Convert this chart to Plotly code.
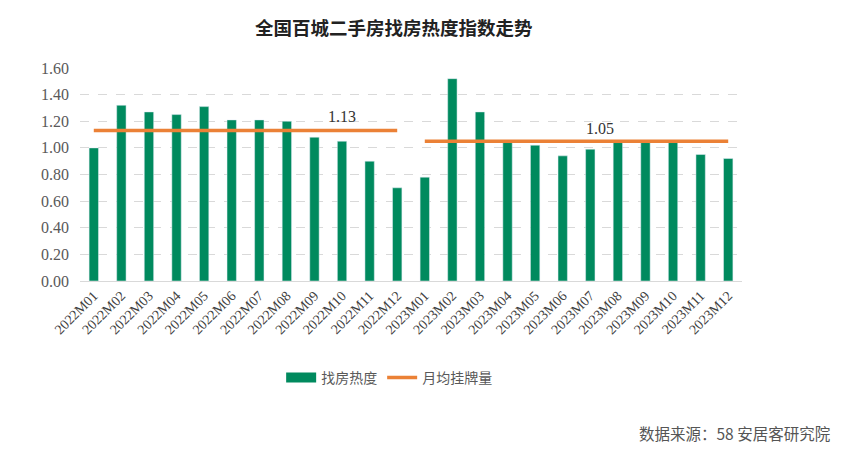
import plotly.graph_objects as go

months = ["2022M01", "2022M02", "2022M03", "2022M04", "2022M05", "2022M06",
          "2022M07", "2022M08", "2022M09", "2022M10", "2022M11", "2022M12",
          "2023M01", "2023M02", "2023M03", "2023M04", "2023M05", "2023M06",
          "2023M07", "2023M08", "2023M09", "2023M10", "2023M11", "2023M12"]
heat = [1.00, 1.32, 1.27, 1.25, 1.31, 1.21, 1.21, 1.20, 1.08, 1.05, 0.90, 0.70,
        0.78, 1.52, 1.27, 1.04, 1.02, 0.94, 0.99, 1.04, 1.04, 1.04, 0.95, 0.92]
avg_2022 = 1.13
avg_2023 = 1.05

green = "#008A5E"
orange = "#EB8136"
serif = "Liberation Serif, Noto Sans CJK SC, serif"
cjk = "Noto Sans CJK SC, sans-serif"

fig = go.Figure()
fig.add_trace(go.Bar(x=months, y=heat, name="找房热度", marker_color=green,
                     showlegend=False))

# yearly average lines, 2022 and 2023
fig.add_trace(go.Scatter(x=months[:12], y=[avg_2022] * 12, mode="lines",
                         showlegend=False, line=dict(color=orange, width=3.5)))
fig.add_trace(go.Scatter(x=months[12:], y=[avg_2023] * 12, mode="lines",
                         showlegend=False, line=dict(color=orange, width=3.5)))

# legend entries (wide green block like the original)
fig.add_trace(go.Scatter(x=[None], y=[None], mode="lines", name="找房热度",
                         line=dict(color=green, width=10)))
fig.add_trace(go.Scatter(x=[None], y=[None], mode="lines", name="月均挂牌量",
                         line=dict(color=orange, width=3.5)))

fig.add_annotation(x=9, y=avg_2022, text="1.13", showarrow=False, yshift=14,
                   font=dict(family=serif, size=16, color="#333333"))
fig.add_annotation(x=18.35, y=avg_2023, text="1.05", showarrow=False, yshift=13,
                   font=dict(family=serif, size=16, color="#333333"))

fig.update_layout(
    width=842, height=449,
    margin=dict(l=72, r=108, t=60, b=176),
    paper_bgcolor="white", plot_bgcolor="white",
    bargap=0.66,
    title=dict(text="<b>全国百城二手房找房热度指数走势</b>", x=0.458, xanchor="center",
               y=0.955, yanchor="middle",
               font=dict(family=cjk, size=18.5, color="#222222")),
    legend=dict(orientation="h", x=0.467, xanchor="center", y=-0.455, yanchor="middle",
                font=dict(family=cjk, size=14, color="#595959"), itemwidth=30,
                tracegroupgap=0),
    font=dict(family=serif, color="#555555"),
)
fig.update_yaxes(range=[0, 1.6], dtick=0.2, tickformat=".2f", automargin=False,
                 showgrid=True, gridcolor="#D9D9D9", griddash="dash",
                 zeroline=False, showline=False,
                 tickfont=dict(family=serif, size=16, color="#595959"),
                 ticks="", ticklen=0, ticklabelstandoff=10)
fig.update_xaxes(showline=True, linecolor="#D9D9D9", linewidth=1, automargin=False,
                 tickangle=-45, showgrid=False,
                 tickfont=dict(family=serif, size=14, color="#404040"))

fig.add_annotation(text="数据来源：58 安居客研究院", xref="paper", yref="paper",
                   x=1.136, y=-0.714, xanchor="right", yanchor="middle", showarrow=False,
                   font=dict(family=cjk, size=15.5, color="#555555"))

fig.write_html("out.html")
